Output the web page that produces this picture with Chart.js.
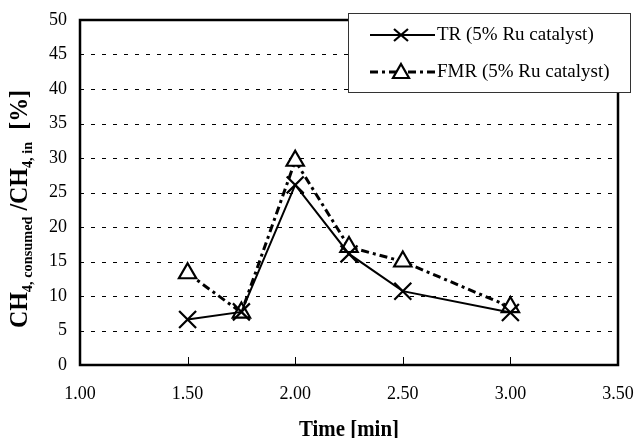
<!DOCTYPE html>
<html>
<head>
<meta charset="utf-8">
<script src="https://cdn.jsdelivr.net/npm/chart.js@4.4.0/dist/chart.umd.min.js"></script>
<style>
  html, body { margin: 0; padding: 0; background: #fff; }
  #wrap { width: 637px; height: 438px; }
</style>
</head>
<body>
<div id="wrap"><canvas id="chart_time"></canvas></div>
<script>
// ----------------------------------------------------------------------
//  data
// ----------------------------------------------------------------------
var times = [1.50, 1.75, 2.00, 2.25, 2.50, 3.00];
var trValues = [6.6, 7.7, 26.1, 16.1, 10.7, 7.6];
var fmrValues = [13.3, 7.6, 29.6, 17.1, 15.0, 8.4];
var seriesLabels = ['TR (5% Ru catalyst)', 'FMR (5% Ru catalyst)'];
var xTitle = 'Time [min]';

var serif = "'Liberation Serif', 'Times New Roman', serif";
var dashDot = [8, 4, 3, 4];

var toPoints = function(xs, ys){
	return xs.map(function(x, i){ return {x: x, y: ys[i]}; });
};

// ----------------------------------------------------------------------
//  frame, dashed grid, inner ticks, titles, legend
// ----------------------------------------------------------------------
var decorPlugin = {
	id: 'decor',
	beforeDatasetsDraw: function(chart){
		var ctx = chart.ctx, a = chart.chartArea;
		var ys = chart.scales.y, xs = chart.scales.x;
		ctx.save();
		ctx.strokeStyle = '#000';
		ctx.lineWidth = 1;
		ctx.setLineDash([4, 7]);
		ys.ticks.forEach(function(t){
			if (t.value <= 0 || t.value >= 50) return;
			var py = Math.round(ys.getPixelForValue(t.value)) + 0.5;
			ctx.beginPath(); ctx.moveTo(a.left, py); ctx.lineTo(a.right, py); ctx.stroke();
		});
		ctx.setLineDash([]);
		xs.ticks.forEach(function(t){
			var px = Math.round(xs.getPixelForValue(t.value)) + 0.5;
			ctx.beginPath(); ctx.moveTo(px, a.bottom); ctx.lineTo(px, a.bottom - 8); ctx.stroke();
		});
		ctx.lineWidth = 2.5;
		ctx.strokeRect(a.left, a.top, a.right - a.left, a.bottom - a.top);
		ctx.restore();
	},
	afterDraw: function(chart){
		var ctx = chart.ctx, a = chart.chartArea;
		ctx.save();
		ctx.fillStyle = '#000';
		ctx.textBaseline = 'alphabetic';

		// x axis title
		ctx.font = 'bold 23px ' + serif;
		var w = ctx.measureText(xTitle).width;
		ctx.save();
		ctx.translate((a.left + a.right) / 2, 436);
		ctx.scale(100 / w, 1);
		ctx.textAlign = 'center';
		ctx.fillText(xTitle, 0, 0);
		ctx.restore();

		// y axis title with subscripts
		var parts = [
			['CH', 25, 0], ['4, consumed', 15, 5], [' /CH', 25, 0], ['4, in', 15, 5], ['  [%]', 25, 0]
		];
		var total = 0;
		parts.forEach(function(p){ ctx.font = 'bold ' + p[1] + 'px ' + serif; p.push(ctx.measureText(p[0]).width); total += p[3]; });
		ctx.translate(27, 209);
		ctx.rotate(-Math.PI / 2);
		ctx.scale(238 / total, 1);
		var cx = -total / 2;
		parts.forEach(function(p){
			ctx.font = 'bold ' + p[1] + 'px ' + serif;
			ctx.fillText(p[0], cx, p[2]);
			cx += p[3];
		});
		ctx.restore();

		// legend box
		ctx.save();
		ctx.fillStyle = '#fff';
		ctx.fillRect(348, 13, 283, 80);
		ctx.strokeStyle = '#333';
		ctx.lineWidth = 1;
		ctx.strokeRect(348.5, 13.5, 282, 79);
		ctx.strokeStyle = '#000';
		// row 1
		ctx.lineWidth = 2;
		ctx.beginPath(); ctx.moveTo(370, 35); ctx.lineTo(435, 35); ctx.stroke();
		ctx.lineWidth = 2.2;
		ctx.beginPath();
		ctx.moveTo(394, 29); ctx.lineTo(408, 41);
		ctx.moveTo(408, 29); ctx.lineTo(394, 41);
		ctx.stroke();
		// row 2
		ctx.lineWidth = 3;
		ctx.setLineDash(dashDot);
		ctx.beginPath(); ctx.moveTo(370, 72); ctx.lineTo(435, 72); ctx.stroke();
		ctx.setLineDash([]);
		ctx.lineWidth = 2.2;
		ctx.fillStyle = '#fff';
		ctx.beginPath();
		ctx.moveTo(401, 64); ctx.lineTo(409, 78); ctx.lineTo(393, 78); ctx.closePath();
		ctx.fill(); ctx.stroke();
		ctx.fillStyle = '#000';
		ctx.font = '19px ' + serif;
		ctx.textBaseline = 'middle';
		ctx.fillText(seriesLabels[0], 437, 35);
		ctx.fillText(seriesLabels[1], 437, 72);
		ctx.restore();
	}
};

// ----------------------------------------------------------------------
//  chart
// ----------------------------------------------------------------------
var drawGraph = function(){
	var ctx = document.getElementById('chart_time').getContext('2d');
	var config = {
		type: 'line',
		data: {
			datasets: [
				{
					label: seriesLabels[0],
					data: toPoints(times, trValues),
					borderColor: '#000',
					borderWidth: 2,
					pointStyle: 'crossRot',
					pointRadius: 12,
					pointBorderWidth: 2.2,
					pointBorderColor: '#000',
					pointBackgroundColor: '#fff',
					tension: 0
				},
				{
					label: seriesLabels[1],
					data: toPoints(times, fmrValues),
					borderColor: '#000',
					borderWidth: 3,
					borderDash: dashDot,
					pointStyle: 'triangle',
					pointRadius: 10,
					pointBorderWidth: 2.2,
					pointBorderColor: '#000',
					pointBackgroundColor: '#fff',
					tension: 0
				}
			]
		},
		options: {
			responsive: true,
			maintainAspectRatio: false,
			animation: false,
			layout: { padding: { top: 20, right: 19, left: 0, bottom: 0 } },
			plugins: { legend: { display: false }, tooltip: { enabled: false } },
			scales: {
				x: {
					type: 'linear',
					min: 1, max: 3.5,
					// fixed box so the plot area lands at 80..618 x 20..365
					afterFit: function(s){ s.height = 73; s.paddingLeft = 0; s.paddingRight = 0; },
					grid: { display: false, drawTicks: false },
					border: { display: false },
					ticks: {
						stepSize: 0.5,
						padding: 18,
						color: '#000',
						font: { family: serif, size: 18 },
						maxRotation: 0,
						callback: function(v){ return Number(v).toFixed(2); }
					}
				},
				y: {
					min: 0, max: 50,
					afterFit: function(s){ s.width = 80; s.paddingTop = 0; s.paddingBottom = 0; },
					grid: { display: false, drawTicks: false },
					border: { display: false },
					ticks: {
						stepSize: 5,
						padding: 13,
						color: '#000',
						font: { family: serif, size: 18 }
					}
				}
			}
		},
		plugins: [decorPlugin]
	};
	var myChart = new Chart(ctx, config);
};
window.onload = function(){
	drawGraph();
};
</script>
</body>
</html>
